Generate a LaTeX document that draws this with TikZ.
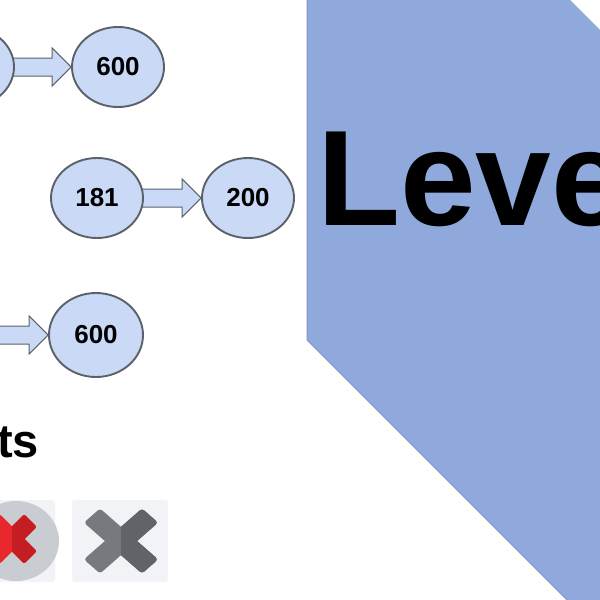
\documentclass[tikz,border=0pt]{standalone}
\usepackage{fontspec}
\setmainfont{Liberation Sans}
\usetikzlibrary{shapes.geometric,calc}
\pgfdeclarelayer{bg}
\pgfdeclarelayer{back}
\pgfsetlayers{back,bg,main}
\definecolor{polyblue}{HTML}{8FA9DC}
\definecolor{polyedge}{HTML}{7E97CB}
\definecolor{nodefill}{HTML}{C9D9F6}
\definecolor{nodeline}{HTML}{5B6169}
\definecolor{iconbg}{HTML}{F1F3F6}
\definecolor{ringgray}{HTML}{C9CCD1}
\definecolor{xredA}{HTML}{E8282C}
\definecolor{xredB}{HTML}{C41E22}
\definecolor{xgrayA}{HTML}{76797E}
\definecolor{xgrayB}{HTML}{606368}
\begin{document}
\begin{tikzpicture}[x=1pt,y=-1pt,
  num/.style={ellipse,draw=nodeline,line width=1.9pt,fill=nodefill,
    minimum width=92pt,minimum height=80pt,inner sep=0pt,
    font=\bfseries\fontsize{26}{26}\selectfont},
  blockarrow/.style={fill=nodefill,draw=nodeline,line width=1pt,line join=miter},
  bigtext/.style={anchor=base west,inner sep=0pt,font=\bfseries\fontsize{136}{136}\selectfont},
  midtext/.style={anchor=base east,inner sep=0pt,font=\bfseries\fontsize{47}{47}\selectfont}]
\useasboundingbox (0,0) rectangle (600,600);
\begin{pgfonlayer}{back}
\fill[white] (0,0) rectangle (600,600);
% blue panel
\fill[polyblue] (307,0) -- (570,0) -- (600,30) -- (600,600) -- (567,600) -- (307,340) -- cycle;
\draw[polyedge,line width=1pt] (307,0) -- (307,340) -- (567,600);
\end{pgfonlayer}
% nodes
\node[num] (a1) at (-32,67) {};
\node[num] (a2) at (118,67) {600};
\node[num] (b1) at (97,198) {181};
\node[num] (b2) at (248,198) {200};
\node[num] (c1) at (-60,335) {};
\node[num,minimum width=94pt,minimum height=84pt] (c2) at (96,335) {600};
% block arrows
\begin{pgfonlayer}{bg}
\foreach \s/\t in {a1/a2,b1/b2,c1/c2}{
  \draw[blockarrow] let \p1=(\s.east), \p2=(\t.west) in
    (\x1-3pt,\y2+9pt) -- (\x2-19pt,\y2+9pt) -- (\x2-19pt,\y2+19pt) -- (\x2,\y2)
    -- (\x2-19pt,\y2-19pt) -- (\x2-19pt,\y2-9pt) -- (\x1-3pt,\y2-9pt) -- cycle;
}
\end{pgfonlayer}
% texts
\node[bigtext] (lv) at (317,225) {Leve};
\node[midtext] (ts) at (39,457) {ts};
% icon 1: red cross on grey disc
\fill[iconbg,rounded corners=3pt] (-10,500) rectangle (55,582);
\fill[ringgray] (16,541) ellipse [x radius=43pt, y radius=40pt];
\begin{scope}[shift={(12,539)}]
  \fill[xredA,rounded corners=2pt,rotate=45] (-26,-9) rectangle (26,9);
  \fill[xredA,rounded corners=2pt,rotate=-45] (-26,-9) rectangle (26,9);
  \begin{scope}
    \clip (0,-40) rectangle (40,40);
    \fill[xredB,rounded corners=2pt,rotate=45] (-26,-9) rectangle (26,9);
    \fill[xredB,rounded corners=2pt,rotate=-45] (-26,-9) rectangle (26,9);
  \end{scope}
\end{scope}
% icon 2: grey cross
\fill[iconbg,rounded corners=3pt] (72,500) rectangle (168,582);
\begin{scope}[shift={(121,541)},xscale=1.14]
  \fill[xgrayA,rounded corners=3pt,rotate=45] (-36,-10) rectangle (36,10);
  \fill[xgrayA,rounded corners=3pt,rotate=-45] (-36,-10) rectangle (36,10);
  \begin{scope}
    \clip (0,-45) rectangle (45,45);
    \fill[xgrayB,rounded corners=3pt,rotate=45] (-36,-10) rectangle (36,10);
    \fill[xgrayB,rounded corners=3pt,rotate=-45] (-36,-10) rectangle (36,10);
  \end{scope}
\end{scope}
\end{tikzpicture}
\end{document}
